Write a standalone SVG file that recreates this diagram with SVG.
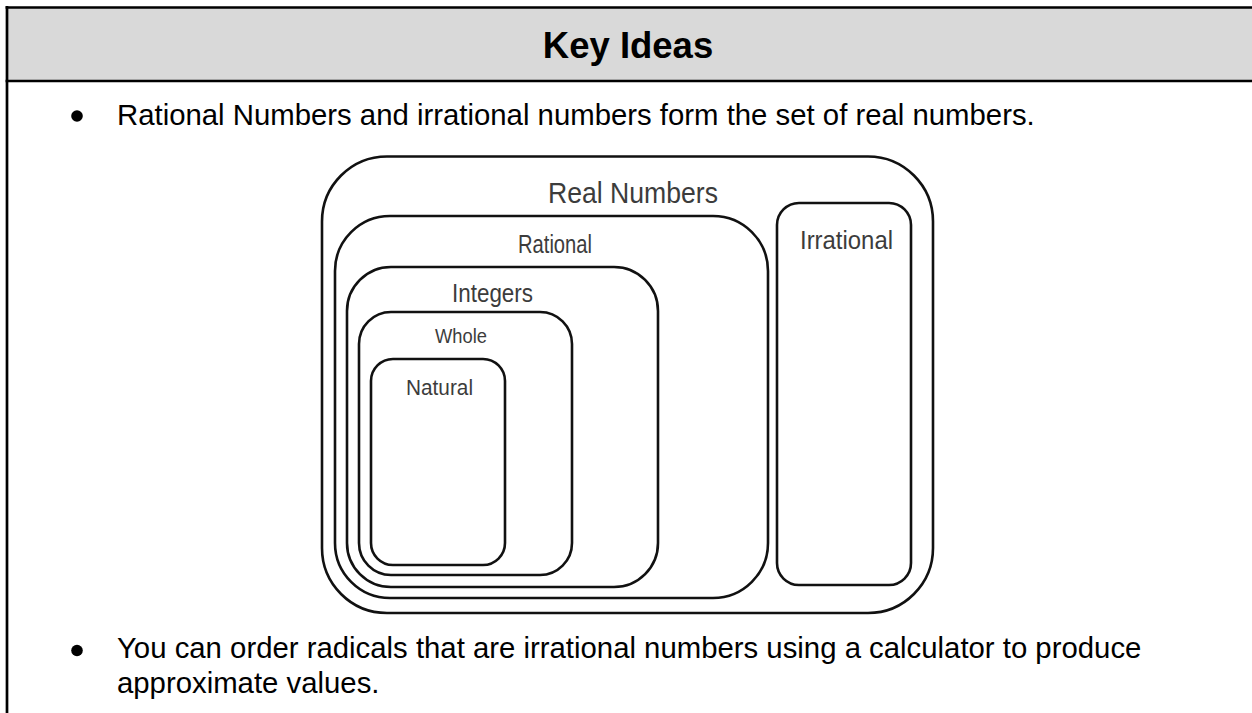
<svg xmlns="http://www.w3.org/2000/svg" width="1252" height="713" viewBox="0 0 1252 713">
  <style>
    .frame { fill: none; stroke: #000; stroke-width: 2.7; }
    .body { font-family: "Liberation Sans", Arial, sans-serif; font-size: 29.33px; fill: #000; }
    .title { font-family: "Liberation Sans", Arial, sans-serif; font-size: 36.5px; font-weight: bold; fill: #000; }
    .set { fill: #fff; stroke: #111; stroke-width: 2.6; }
    .lbl { font-family: "Liberation Sans", Arial, sans-serif; fill: #3c3c3c; }
  </style>
  <rect x="0" y="0" width="1252" height="713" fill="#fff"/>
  <!-- table frame -->
  <g id="header">
    <rect x="7" y="7.5" width="1260" height="73.5" fill="#d9d9d9"/>
    <line x1="5.6" y1="7.5" x2="1260" y2="7.5" class="frame"/>
    <line x1="5.6" y1="81" x2="1260" y2="81" class="frame"/>
    <line x1="7" y1="6" x2="7" y2="720" class="frame"/>
    <text x="628" y="58" text-anchor="middle" class="title">Key Ideas</text>
  </g>
  <g id="bullet1">
    <circle cx="77" cy="116" r="5.8" fill="#000"/>
    <text x="117" y="125" class="body">Rational Numbers and irrational numbers form the set of real numbers.</text>
  </g>
  <g id="bullet2">
    <circle cx="77" cy="650.5" r="5.8" fill="#000"/>
    <text x="117" y="658" class="body">You can order radicals that are irrational numbers using a calculator to produce</text>
    <text x="117" y="693" class="body">approximate values.</text>
  </g>
  <!-- Venn-style nested sets -->
  <g id="real">
    <rect x="322" y="156.5" width="611" height="456.5" rx="65" ry="65" class="set"/>
    <text x="548" y="203" class="lbl" font-size="30" textLength="170" lengthAdjust="spacingAndGlyphs">Real Numbers</text>
  </g>
  <g id="rational">
    <rect x="335" y="216" width="433" height="382" rx="55" ry="55" class="set"/>
    <text x="518" y="253" class="lbl" font-size="25" textLength="74" lengthAdjust="spacingAndGlyphs">Rational</text>
  </g>
  <g id="integers">
    <rect x="347" y="267" width="311" height="320" rx="44" ry="44" class="set"/>
    <text x="452" y="302" class="lbl" font-size="25" textLength="81" lengthAdjust="spacingAndGlyphs">Integers</text>
  </g>
  <g id="whole">
    <rect x="359" y="312" width="213" height="263" rx="32" ry="32" class="set"/>
    <text x="435" y="343" class="lbl" font-size="21" textLength="52" lengthAdjust="spacingAndGlyphs">Whole</text>
  </g>
  <g id="natural">
    <rect x="371" y="359" width="134" height="206" rx="22" ry="22" class="set"/>
    <text x="406" y="395" class="lbl" font-size="22" textLength="67" lengthAdjust="spacingAndGlyphs">Natural</text>
  </g>
  <g id="irrational">
    <rect x="777" y="203" width="134" height="382" rx="22" ry="22" class="set"/>
    <text x="800" y="249" class="lbl" font-size="25" textLength="93" lengthAdjust="spacingAndGlyphs">Irrational</text>
  </g>
  <g id="connectors"></g>
</svg>
